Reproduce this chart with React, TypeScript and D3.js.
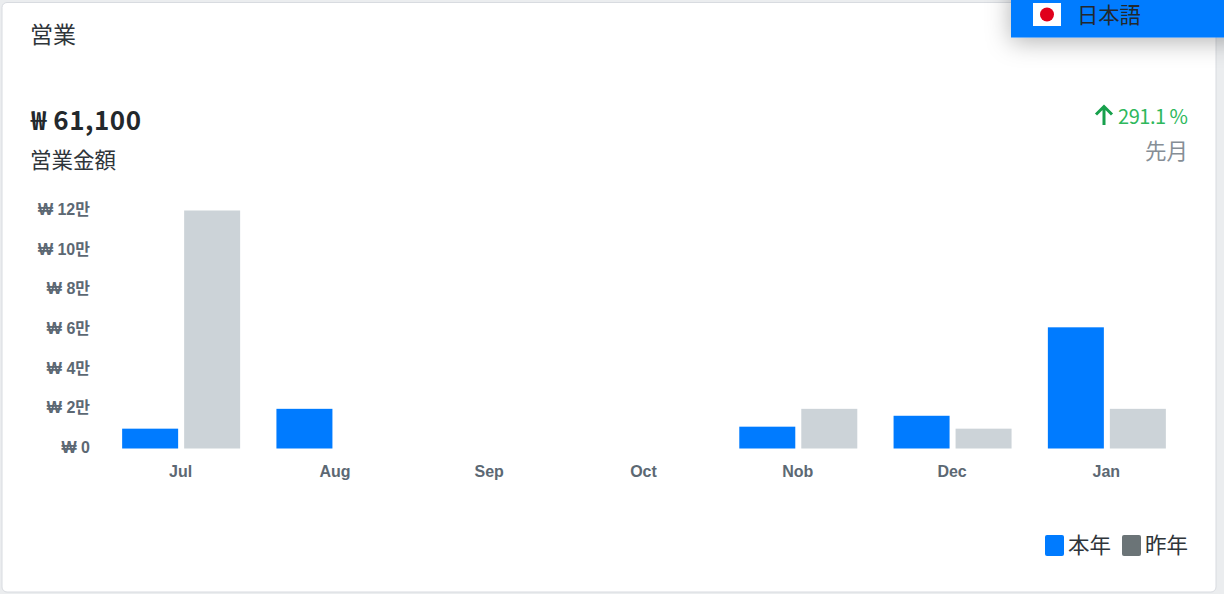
import React, { useEffect, useRef } from 'react';
import * as d3 from 'd3';

const months = ['Jul', 'Aug', 'Sep', 'Oct', 'Nob', 'Dec', 'Jan'];
const thisYear = [10000, 20000, 0, 0, 11000, 16500, 61100];
const lastYear = [120000, 0, 0, 0, 20000, 10000, 20000];
const yTicks = [0, 20000, 40000, 60000, 80000, 100000, 120000];
const seriesNames = ['本年', '昨年'];

const BLUE = '#007bff';
const BAR_GREY = '#ccd3d8';
const LEGEND_GREY = '#6b7477';
const CJK = '"Noto Sans CJK JP", "Noto Sans", sans-serif';
const TICK_FONT = '"Liberation Sans", "Noto Sans CJK KR", sans-serif';

const App: React.FC = () => {
  const ref = useRef<SVGSVGElement | null>(null);

  useEffect(() => {
    document.body.style.margin = '0';
    const svg = d3.select(ref.current);
    svg.selectAll('*').remove();

    // page and card
    svg.append('rect').attr('width', 1224).attr('height', 594).attr('fill', '#ebedef');
    svg.append('rect')
      .attr('x', 2).attr('y', 2.5).attr('width', 1214).attr('height', 589.5)
      .attr('rx', 5).attr('fill', '#fff').attr('stroke', '#d8dbe0').attr('stroke-width', 1);

    const text = (s: string, x: number, y: number, size: number, fill: string, anchor = 'start', weight = 400) =>
      svg.append('text')
        .attr('x', x).attr('y', y)
        .attr('text-anchor', anchor)
        .attr('font-family', CJK)
        .attr('font-size', size)
        .attr('font-weight', weight)
        .attr('fill', fill)
        .text(s);

    text('営業', 30, 43, 23, '#2f353a');
    text('₩ 61,100', 31, 130, 26, '#23282c', 'start', 700).attr('textLength', 110);
    text('営業金額', 30, 168, 21.5, '#2f353a');
    text('291.1 %', 1188, 124, 20, '#2eb85c', 'end').attr('textLength', 70);
    text('先月', 1188, 159, 21.5, '#868e96', 'end');

    // up arrow
    svg.append('path')
      .attr('d', 'M1104 125V108M1096 114.5L1104 106.5L1112 114.5')
      .attr('fill', 'none').attr('stroke', '#17a04c').attr('stroke-width', 3);

    // scales
    const x = d3.scaleBand<string>().domain(months).range([104, 1184]);
    const xSeries = d3.scaleBand<string>().domain(seriesNames).range([-59, 59]).paddingInner(0.0968);
    const y = d3.scaleLinear().domain([0, 120000]).range([448.5, 210.5]);

    const rows = months.map((m, i) => ({ month: m, values: [thisYear[i], lastYear[i]] }));
    const groups = svg.append('g').selectAll('g').data(rows).enter().append('g')
      .attr('transform', d => `translate(${x(d.month)! + x.bandwidth() / 2},0)`);
    groups.selectAll('rect')
      .data(d => d.values.map((v, i) => ({ name: seriesNames[i], v })))
      .enter().append('rect')
      .attr('x', d => xSeries(d.name)!)
      .attr('y', d => y(d.v))
      .attr('width', xSeries.bandwidth())
      .attr('height', d => y(0) - y(d.v))
      .attr('fill', d => (d.name === seriesNames[0] ? BLUE : BAR_GREY));

    // axes
    const yAxis = svg.append('g')
      .attr('transform', 'translate(90,-1)')
      .call(d3.axisLeft(y).tickValues(yTicks).tickSize(0).tickPadding(0)
        .tickFormat(d => (+d === 0 ? '₩ 0' : `₩ ${+d / 10000}만`)));
    const xAxis = svg.append('g')
      .attr('transform', 'translate(-0.5,466)')
      .call(d3.axisBottom(x).tickSize(0).tickPadding(0));
    [yAxis, xAxis].forEach(a => {
      a.select('.domain').remove();
      a.selectAll('text')
        .attr('font-family', TICK_FONT)
        .attr('font-size', 16)
        .attr('font-weight', 700)
        .attr('fill', '#5c6873');
    });

    // legend
    const legendX = [1045, 1122];
    seriesNames.forEach((name, i) => {
      svg.append('rect')
        .attr('x', legendX[i]).attr('y', 535).attr('width', 19).attr('height', 21)
        .attr('rx', 2).attr('fill', i === 0 ? BLUE : LEGEND_GREY);
      text(name, legendX[i] + 23, 553, 21.5, '#2f353a');
    });

    // language dropdown on top of the card
    const defs = svg.append('defs');
    const blur = defs.append('filter').attr('id', 'menu-shadow')
      .attr('x', '-20%').attr('y', '-50%').attr('width', '140%').attr('height', '250%');
    blur.append('feDropShadow')
      .attr('dx', 0).attr('dy', 4).attr('stdDeviation', 12)
      .attr('flood-color', '#000').attr('flood-opacity', 0.3);
    svg.append('rect')
      .attr('x', 1011).attr('y', -20).attr('width', 240).attr('height', 57.5)
      .attr('fill', BLUE).attr('filter', 'url(#menu-shadow)');
    svg.append('rect').attr('x', 1033).attr('y', 3).attr('width', 28).attr('height', 23).attr('fill', '#fff');
    svg.append('circle').attr('cx', 1047).attr('cy', 14.5).attr('r', 7).attr('fill', '#e0001b');
    text('日本語', 1077, 23, 21.3, '#23282c');
  }, []);

  return <svg ref={ref} width={1224} height={594} style={{ position: 'absolute', left: 0, top: 0 }} />;
};

export default App;
